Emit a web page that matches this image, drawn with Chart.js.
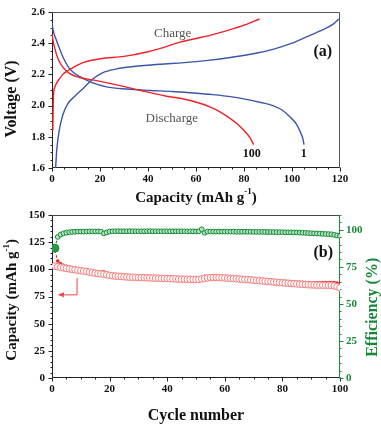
<!DOCTYPE html>
<html>
<head>
<meta charset="utf-8">
<script src="https://cdn.jsdelivr.net/npm/chart.js@4.4.1/dist/chart.umd.min.js"></script>
<style>
html, body { margin: 0; padding: 0; background: #fff; }
#wrap { position: relative; width: 381px; height: 424px; overflow: hidden; }
canvas { position: absolute; left: 0; }
#voltage { top: 0; }
#cycling { top: 200px; }
</style>
</head>
<body>
<div id="wrap">
  <canvas id="voltage" width="381" height="212"></canvas>
  <canvas id="cycling" width="381" height="224"></canvas>
</div>
<script>
// (a) voltage profiles, cycle 1 and cycle 100
const c1ChargeCap = [1.5, 2, 3, 4.5, 6.5, 9.5, 13, 17, 21, 27, 34, 45, 55, 65, 75, 85, 92, 100, 106, 112, 117, 119.5];
const c1ChargeV = [1.6, 1.72, 1.84, 1.94, 2.01, 2.06, 2.11, 2.17, 2.21, 2.235, 2.25, 2.265, 2.275, 2.29, 2.31, 2.335, 2.36, 2.4, 2.44, 2.48, 2.52, 2.555];
const c1DischargeCap = [0, 0.5, 1.8, 3, 4.6, 7.4, 11.6, 17, 22.7, 31, 41, 50, 57.4, 67, 75, 81, 87, 92, 96, 99, 101.9, 103.5, 104.5, 105];
const c1DischargeV = [2.53, 2.48, 2.42, 2.37, 2.31, 2.235, 2.185, 2.145, 2.12, 2.106, 2.097, 2.09, 2.082, 2.07, 2.056, 2.04, 2.02, 2.0, 1.97, 1.93, 1.88, 1.83, 1.79, 1.75];
const c100ChargeCap = [0.35, 0.45, 0.6, 1.0, 1.8, 3, 4.5, 6.7, 9.5, 13, 20, 30, 40, 47, 53, 60, 67, 74, 80, 84, 86.5];
const c100ChargeV = [1.84, 1.95, 2.06, 2.11, 2.14, 2.17, 2.2, 2.225, 2.25, 2.275, 2.3, 2.315, 2.345, 2.375, 2.405, 2.43, 2.455, 2.485, 2.515, 2.54, 2.555];
const c100DischargeCap = [0, 0.4, 1.1, 2.5, 4.6, 7.4, 11.6, 18.5, 26.9, 36.6, 47.7, 54, 61.6, 66, 70, 74, 77, 80, 82.5, 84];
const c100DischargeV = [2.46, 2.42, 2.37, 2.3, 2.245, 2.205, 2.18, 2.16, 2.133, 2.098, 2.06, 2.045, 2.015, 1.99, 1.96, 1.92, 1.885, 1.84, 1.795, 1.75];

// (b) cycling
const cycles = Array.from({ length: 100 }, (_, i) => i + 1);
const chargeCap = [
  117.6, 107.6, 105.2, 103.8, 102.8, 102.0, 101.4, 100.9, 100.4, 100.0,
  99.6, 99.1, 98.6, 98.1, 97.6, 97.2, 97.0, 97.8, 96.7, 95.6,
  95.1, 94.7, 94.4, 94.3, 94.1, 93.9, 93.6, 93.6, 93.5, 93.4,
  93.3, 93.2, 93.1, 92.9, 92.9, 92.8, 92.7, 92.6, 92.5, 92.4,
  92.3, 92.2, 92.1, 92.0, 91.9, 91.8, 91.8, 91.6, 91.6, 91.6,
  91.6, 90.8, 93.6, 93.2, 93.5, 93.6, 93.6, 93.5, 93.4, 93.2,
  93.0, 92.8, 92.6, 92.5, 92.3, 92.1, 91.9, 91.7, 91.5, 91.4,
  91.1, 90.9, 90.6, 90.4, 90.2, 90.0, 89.6, 89.5, 89.2, 89.0,
  88.9, 88.7, 88.5, 88.4, 88.2, 88.1, 88.0, 87.9, 87.7, 87.7,
  87.7, 87.7, 87.8, 87.8, 87.9, 87.8, 87.8, 87.8, 87.3, 86.6
];
const dischargeCap = [
  103.0, 102.4, 101.8, 101.3, 100.8, 100.4, 100.0, 99.6, 99.2, 98.8,
  98.4, 98.0, 97.5, 97.0, 96.5, 96.1, 95.8, 95.5, 95.0, 94.5,
  94.1, 93.8, 93.6, 93.4, 93.2, 93.0, 92.8, 92.7, 92.6, 92.5,
  92.4, 92.3, 92.2, 92.1, 92.0, 91.9, 91.8, 91.7, 91.6, 91.5,
  91.4, 91.3, 91.2, 91.1, 91.0, 90.9, 90.8, 90.7, 90.7, 90.6,
  90.7, 91.2, 91.7, 92.1, 92.4, 92.5, 92.5, 92.4, 92.3, 92.1,
  91.9, 91.7, 91.5, 91.3, 91.1, 90.9, 90.7, 90.5, 90.3, 90.1,
  89.8, 89.6, 89.3, 89.1, 88.8, 88.6, 88.3, 88.1, 87.8, 87.6,
  87.4, 87.2, 87.0, 86.8, 86.6, 86.4, 86.2, 86.0, 85.8, 85.7,
  85.6, 85.5, 85.5, 85.4, 85.4, 85.3, 85.2, 84.8, 84.0, 83.0
];
const efficiency = [
  87.6, 95.2, 96.8, 97.6, 98.1, 98.4, 98.6, 98.7, 98.8, 98.8,
  98.8, 98.9, 98.9, 98.9, 98.9, 98.9, 98.8, 97.6, 98.2, 98.8,
  99.0, 99.0, 99.1, 99.0, 99.0, 99.0, 99.1, 99.0, 99.0, 99.0,
  99.0, 99.0, 99.0, 99.1, 99.0, 99.0, 99.0, 99.0, 99.0, 99.0,
  99.0, 99.0, 99.0, 99.0, 99.0, 99.0, 98.9, 99.0, 99.0, 98.9,
  99.0, 100.4, 98.0, 98.8, 98.8, 98.8, 98.8, 98.8, 98.8, 98.8,
  98.8, 98.8, 98.8, 98.7, 98.7, 98.7, 98.7, 98.7, 98.7, 98.6,
  98.6, 98.6, 98.6, 98.6, 98.5, 98.5, 98.5, 98.4, 98.4, 98.4,
  98.3, 98.3, 98.3, 98.2, 98.2, 98.1, 98.0, 97.9, 97.8, 97.7,
  97.6, 97.5, 97.4, 97.3, 97.2, 97.1, 97.0, 96.6, 96.2, 95.8
];
// arrow pointing to the capacity axis
const arrowCycle = [8.7, 8.7, 2.4];
const arrowCap = [92, 76.5, 76.5];

const serif = "'Liberation Serif', 'DejaVu Serif', serif";
const RED = '#ee2128';
const BLUE = '#3d55aa';
const GREEN = '#16893a';
const tickFont = { family: serif, size: 11, weight: 'bold', lineHeight: 0.9 };

const pts = (xs, ys) => xs.map((x, i) => ({ x, y: ys[i] }));

function drawRich(ctx, parts, x, y, angle, color, size) {
  ctx.save();
  ctx.translate(x, y);
  ctx.rotate(angle);
  ctx.fillStyle = color;
  ctx.textBaseline = 'middle';
  ctx.textAlign = 'left';
  const big = `bold ${size}px ${serif}`;
  const small = `bold ${Math.round(size * 0.62)}px ${serif}`;
  let w = 0;
  for (const p of parts) { ctx.font = p.sup ? small : big; w += ctx.measureText(p.t).width; }
  let cx = -w / 2;
  for (const p of parts) {
    ctx.font = p.sup ? small : big;
    ctx.fillText(p.t, cx, p.sup ? -size * 0.38 : 0);
    cx += ctx.measureText(p.t).width;
  }
  ctx.restore();
}

// box, tick marks, axis titles and notes
const frame = {
  id: 'frame',
  beforeDatasetsDraw(chart, args, o) {
    const { ctx, chartArea: a } = chart;
    const L = Math.round(a.left) + 0.5, R = Math.round(a.right) - 0.5;
    const T = Math.round(a.top) + 0.5, B = Math.round(a.bottom) - 0.5;
    const line = (x1, y1, x2, y2, c) => {
      ctx.strokeStyle = c; ctx.beginPath(); ctx.moveTo(x1, y1); ctx.lineTo(x2, y2); ctx.stroke();
    };
    ctx.save();
    ctx.lineWidth = 1;
    line(L, T, R, T, o.top);
    line(R, T, R, B, o.right);
    line(L, T, L, B, '#222');
    line(L, B, R, B, '#222');
    for (const t of o.ticks) {
      const s = chart.scales[t.id];
      const n = Math.round((s.max - s.min) / t.minor);
      for (let i = 0; i <= n; i++) {
        const v = s.min + i * t.minor;
        const q = v / t.major;
        const len = Math.abs(q - Math.round(q)) < 1e-6 ? 4 : 2;
        const p = Math.round(s.getPixelForValue(v)) + 0.5;
        if (t.side === 'bottom') line(p, B, p, B + len, t.color);
        else if (t.side === 'left') line(L, p, L - len, p, t.color);
        else line(R, p, R + len, p, t.color);
      }
    }
    ctx.restore();
  },
  afterDraw(chart, args, o) {
    const { ctx, chartArea: a } = chart;
    ctx.save();
    const cx = (a.left + a.right) / 2, cy = (a.top + a.bottom) / 2;
    for (const t of o.titles) {
      if (t.side === 'bottom') drawRich(ctx, t.parts, cx, chart.height - t.off, 0, t.color, t.size);
      else if (t.side === 'left') drawRich(ctx, t.parts, t.off, cy + t.shift, -Math.PI / 2, t.color, t.size);
      else drawRich(ctx, t.parts, chart.width - t.off, cy + t.shift, -Math.PI / 2, t.color, t.size);
    }
    ctx.textAlign = 'center';
    ctx.textBaseline = 'middle';
    for (const n of o.notes) {
      ctx.font = n.font;
      ctx.fillStyle = n.color;
      ctx.fillText(n.text, chart.scales.x.getPixelForValue(n.x), chart.scales[n.axis || 'y'].getPixelForValue(n.y));
    }
    if (o.arrow) {
      const xs = o.arrow.x.map(v => chart.scales.x.getPixelForValue(v));
      const ys = o.arrow.y.map(v => chart.scales.y.getPixelForValue(v));
      ctx.strokeStyle = o.arrow.color;
      ctx.fillStyle = o.arrow.color;
      ctx.lineWidth = 1;
      ctx.beginPath();
      ctx.moveTo(xs[0], ys[0]);
      for (let i = 1; i < xs.length; i++) ctx.lineTo(xs[i], ys[i]);
      ctx.stroke();
      const ex = xs[xs.length - 1], ey = ys[ys.length - 1];
      ctx.beginPath();
      ctx.moveTo(ex - 1, ey);
      ctx.lineTo(ex + 5, ey - 2.5);
      ctx.lineTo(ex + 5, ey + 2.5);
      ctx.closePath();
      ctx.fill();
    }
    ctx.restore();
  }
};

const curve = (xs, ys, color) => ({
  data: pts(xs, ys), borderColor: color, borderWidth: 1.4, pointRadius: 0,
  showLine: true, cubicInterpolationMode: 'monotone', fill: false
});

new Chart(document.getElementById('voltage'), {
  type: 'scatter',
  data: {
    datasets: [
      curve(c100ChargeCap, c100ChargeV, RED),
      curve(c100DischargeCap, c100DischargeV, RED),
      curve(c1ChargeCap, c1ChargeV, BLUE),
      curve(c1DischargeCap, c1DischargeV, BLUE)
    ]
  },
  options: {
    responsive: false,
    animation: false,
    layout: { padding: { top: 5, right: 41, left: 0, bottom: 0 } },
    plugins: {
      legend: { display: false },
      tooltip: { enabled: false },
      frame: {
        top: '#555', right: '#555',
        ticks: [
          { id: 'x', minor: 5, major: 20, side: 'bottom', color: '#222' },
          { id: 'y', minor: 0.05, major: 0.2, side: 'left', color: '#222' }
        ],
        titles: [
          { side: 'bottom', off: 14.3, size: 15, color: '#111', parts: [{ t: 'Capacity (mAh g' }, { t: '-1', sup: true }, { t: ')' }] },
          { side: 'left', off: 11.7, shift: 9, size: 16, color: '#111', parts: [{ t: 'Voltage (V)' }] }
        ],
        notes: [
          { text: 'Charge', x: 50.3, y: 2.46, font: `13px ${serif}`, color: '#555' },
          { text: 'Discharge', x: 49.9, y: 1.914, font: `13px ${serif}`, color: '#555' },
          { text: '100', x: 83.2, y: 1.69, font: `bold 12px ${serif}`, color: '#111' },
          { text: '1', x: 104.9, y: 1.69, font: `bold 12px ${serif}`, color: '#111' },
          { text: '(a)', x: 112.8, y: 2.345, font: `bold 16px ${serif}`, color: '#111' }
        ]
      }
    },
    scales: {
      x: {
        type: 'linear', min: 0, max: 120,
        grid: { display: false, drawTicks: false }, border: { display: false },
        ticks: { stepSize: 20, padding: 6, font: tickFont, color: '#111', maxRotation: 0 },
        afterFit: s => { s.height = 44; }
      },
      y: {
        min: 1.6, max: 2.6,
        grid: { display: false, drawTicks: false }, border: { display: false },
        ticks: { stepSize: 0.2, padding: 7, font: tickFont, color: '#111', callback: v => v.toFixed(1) },
        afterFit: s => { s.width = 52; }
      }
    }
  },
  plugins: [frame]
});

new Chart(document.getElementById('cycling'), {
  type: 'scatter',
  data: {
    datasets: [
      {
        data: pts(cycles, efficiency), yAxisID: 'y1', showLine: true,
        borderColor: GREEN, borderWidth: 1,
        pointRadius: c => c.dataIndex === 0 ? 4 : 2.4,
        pointBackgroundColor: c => c.dataIndex === 0 ? '#2a9a48' : '#b5e2c0',
        pointBorderColor: GREEN, pointBorderWidth: 1,
        segment: { borderDash: c => c.p0DataIndex === 0 ? [3, 2] : undefined }
      },
      {
        data: pts(cycles, dischargeCap), yAxisID: 'y', showLine: false,
        pointRadius: 3.3, pointBorderWidth: 1,
        pointBorderColor: '#f27d7d', pointBackgroundColor: '#fff'
      },
      {
        data: pts(cycles, chargeCap), yAxisID: 'y', showLine: true,
        borderColor: RED, borderWidth: 1,
        pointRadius: 1.8, pointBorderWidth: 0, pointBackgroundColor: RED,
        segment: { borderDash: c => c.p0DataIndex === 0 ? [3, 2] : undefined }
      }
    ]
  },
  options: {
    responsive: false,
    animation: false,
    layout: { padding: { top: 15, right: 0, left: 0, bottom: 0 } },
    plugins: {
      legend: { display: false },
      tooltip: { enabled: false },
      frame: {
        top: '#444', right: GREEN,
        ticks: [
          { id: 'x', minor: 5, major: 20, side: 'bottom', color: '#222' },
          { id: 'y', minor: 5, major: 25, side: 'left', color: '#222' },
          { id: 'y1', minor: 5, major: 25, side: 'right', color: GREEN }
        ],
        titles: [
          { side: 'bottom', off: 8.3, size: 16, color: '#111', parts: [{ t: 'Cycle number' }] },
          { side: 'left', off: 12, shift: 3.3, size: 15, color: '#111', parts: [{ t: 'Capacity (mAh g' }, { t: '-1', sup: true }, { t: ')' }] },
          { side: 'right', off: 8, shift: 10.8, size: 16, color: GREEN, parts: [{ t: 'Efficiency (%)' }] }
        ],
        notes: [
          { text: '(b)', x: 94.2, y: 114.9, font: `bold 16px ${serif}`, color: '#111' }
        ],
        arrow: { x: arrowCycle, y: arrowCap, color: '#f04848' }
      }
    },
    scales: {
      x: {
        type: 'linear', min: 0, max: 100,
        grid: { display: false, drawTicks: false }, border: { display: false },
        ticks: { stepSize: 20, padding: 6, font: tickFont, color: '#111', maxRotation: 0 },
        afterFit: s => { s.height = 46; }
      },
      y: {
        position: 'left', min: 0, max: 150,
        grid: { display: false, drawTicks: false }, border: { display: false },
        ticks: { stepSize: 25, padding: 7, font: tickFont, color: '#111' },
        afterFit: s => { s.width = 52; }
      },
      y1: {
        position: 'right', min: 0, max: 110,
        grid: { display: false, drawTicks: false }, border: { display: false },
        ticks: { stepSize: 25, padding: 6, font: tickFont, color: GREEN },
        afterBuildTicks: s => { s.ticks = s.ticks.filter(t => t.value % 25 === 0); },
        afterFit: s => { s.width = 41; }
      }
    }
  },
  plugins: [frame]
});
</script>
</body>
</html>
